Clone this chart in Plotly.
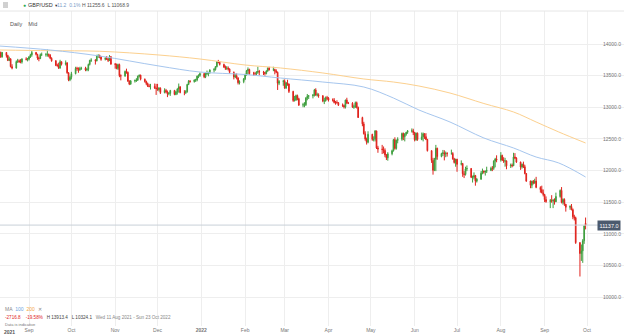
import pandas as pd
import plotly.graph_objects as go

# ---------------------------------------------------------------------------
# GBP/USD daily candles (price x 10000), 11 Aug 2021 - 30 Sep 2022, weekdays
# ---------------------------------------------------------------------------
closes = [
    # Aug 2021
    13866, 13797, 13866, 13817, 13741, 13765, 13642, 13620, 13722, 13734, 13723, 13714, 13763, 13758, 13760,
    # Sep 2021
    13796, 13828, 13866, 13836, 13779, 13771, 13832, 13832, 13832, 13833, 13822, 13775, 13734, 13662, 13661,
    13619, 13720, 13679, 13702, 13545, 13433, 13473,
    # Oct 2021
    13531, 13615, 13614, 13593, 13610, 13617, 13591, 13598, 13676, 13741, 13746, 13733, 13813, 13822, 13799,
    13757, 13776, 13761, 13742, 13798, 13683,
    # Nov 2021
    13678, 13614, 13674, 13500, 13495, 13566, 13551, 13415, 13366, 13415, 13422, 13430, 13491, 13508, 13443,
    13409, 13377, 13337, 13330, 13331, 13304, 13297,
    # Dec 2021
    13280, 13300, 13232, 13266, 13244, 13215, 13219, 13265, 13202, 13241, 13290, 13324, 13233, 13232, 13246,
    13361, 13410, 13405, 13431, 13431, 13492, 13503, 13532,
    # Jan 2022
    13481, 13530, 13536, 13546, 13589, 13595, 13642, 13715, 13712, 13676, 13636, 13616, 13618, 13605, 13552,
    13479, 13498, 13466, 13388, 13405, 13449,
    # Feb 2022
    13514, 13578, 13597, 13530, 13530, 13529, 13553, 13565, 13557, 13551, 13534, 13574, 13618, 13592, 13596,
    13575, 13553, 13379, 13408, 13413,
    # Mar 2022
    13305, 13386, 13367, 13250, 13107, 13112, 13184, 13135, 13035, 13039, 13039, 13145, 13174, 13181, 13191,
    13273, 13193, 13197, 13182, 13098, 13100, 13152, 13143,
    # Apr 2022
    13115, 13115, 13075, 13074, 13073, 13033, 13028, 13003, 13114, 13068, 13064, 13002, 13004, 13072, 12998,
    12838, 12737, 12580, 12497, 12446, 12572,
    # May 2022
    12492, 12493, 12626, 12357, 12339, 12333, 12318, 12247, 12200, 12264, 12312, 12488, 12349, 12475, 12493,
    12585, 12534, 12575, 12604, 12627, 12627, 12601,
    # Jun 2022
    12486, 12590, 12489, 12532, 12581, 12535, 12491, 12313, 12160, 12003, 12176, 12352, 12220, 12269, 12279,
    12262, 12270, 12267, 12269, 12184, 12126, 12178,
    # Jul 2022
    12097, 12110, 11949, 11937, 12026, 12031, 11892, 11893, 11920, 11831, 11864, 11957, 11992, 11976, 11987,
    12002, 12035, 12034, 12151, 12181, 12165,
    # Aug 2022
    12238, 12166, 12148, 12152, 12074, 12085, 12075, 12214, 12198, 12134, 12055, 12099, 12060, 11952, 11834,
    11766, 11829, 11801, 11833, 11733, 11698, 11647, 11620,
    # Sep 2022
    11540, 11510, 11523, 11517, 11528, 11506, 11589, 11685, 11495, 11542, 11467, 11417, 11431, 11381, 11269,
    11253, 10858, 10687, 10730, 10890, 11126, 11137,
]

opens = [
    13880, 13866, 13797, 13866, 13817, 13741, 13765, 13642, 13620, 13722, 13734, 13723, 13714, 13763, 13758,
    13760, 13796, 13828, 13866, 13836, 13779, 13771, 13832, 13832, 13832, 13833, 13822, 13775, 13734, 13662,
    13661, 13619, 13720, 13679, 13702, 13545, 13433,
    13473, 13531, 13615, 13614, 13593, 13610, 13617, 13591, 13598, 13676, 13741, 13746, 13733, 13813, 13822,
    13799, 13757, 13776, 13761, 13742, 13798,
    13683, 13678, 13614, 13674, 13500, 13495, 13566, 13551, 13415, 13366, 13415, 13422, 13430, 13491, 13508,
    13443, 13409, 13377, 13337, 13330, 13331, 13304,
    13297, 13280, 13300, 13232, 13266, 13244, 13215, 13219, 13265, 13202, 13241, 13290, 13324, 13233, 13232,
    13246, 13361, 13410, 13405, 13431, 13431, 13492, 13503,
    13532, 13481, 13530, 13536, 13546, 13589, 13595, 13642, 13715, 13712, 13676, 13636, 13616, 13618, 13605,
    13552, 13479, 13498, 13466, 13388, 13405,
    13449, 13514, 13578, 13597, 13530, 13530, 13529, 13553, 13565, 13557, 13551, 13534, 13574, 13618, 13592,
    13596, 13575, 13553, 13379, 13408,
    13413, 13305, 13386, 13367, 13250, 13107, 13112, 13184, 13135, 13035, 13039, 13039, 13145, 13174, 13181,
    13191, 13273, 13193, 13197, 13182, 13098, 13100, 13152,
    13143, 13115, 13115, 13075, 13074, 13073, 13033, 13028, 13003, 13114, 13068, 13064, 13002, 13004, 13072,
    12998, 12838, 12737, 12580, 12497, 12446,
    12572, 12492, 12493, 12626, 12357, 12339, 12333, 12318, 12247, 12200, 12264, 12312, 12488, 12349, 12475,
    12493, 12585, 12534, 12575, 12604, 12627, 12627,
    12601, 12486, 12590, 12489, 12532, 12581, 12535, 12491, 12313, 12160, 12003, 12176, 12352, 12220, 12269,
    12279, 12262, 12270, 12267, 12269, 12184, 12126,
    12178, 12097, 12110, 11949, 11937, 12026, 12031, 11892, 11893, 11920, 11831, 11864, 11957, 11992, 11976,
    11987, 12002, 12035, 12034, 12151, 12181,
    12165, 12238, 12166, 12148, 12152, 12074, 12085, 12075, 12214, 12198, 12134, 12055, 12099, 12060, 11952,
    11834, 11766, 11829, 11801, 11833, 11733, 11698, 11647,
    11620, 11540, 11510, 11523, 11517, 11528, 11506, 11589, 11685, 11495, 11542, 11467, 11417, 11431, 11381,
    11269, 11253, 10858, 10687, 10730, 10890, 11165,
]

highs = [
    13895, 13880, 13875, 13870, 13830, 13800, 13775, 13680, 13740, 13765, 13755, 13760, 13775, 13790, 13780,
    13810, 13845, 13890, 13875, 13845, 13800, 13850, 13865, 13860, 13913, 13850, 13840, 13790, 13745, 13690,
    13705, 13750, 13725, 13740, 13710, 13555, 13500,
    13560, 13640, 13640, 13630, 13640, 13640, 13640, 13625, 13690, 13750, 13775, 13760, 13830, 13834, 13830,
    13810, 13790, 13810, 13780, 13825, 13810,
    13700, 13690, 13690, 13690, 13520, 13580, 13610, 13565, 13425, 13430, 13440, 13460, 13500, 13515, 13515,
    13455, 13420, 13390, 13370, 13370, 13375, 13370,
    13370, 13320, 13315, 13300, 13290, 13265, 13240, 13275, 13275, 13260, 13300, 13375, 13330, 13270, 13270,
    13370, 13430, 13430, 13440, 13450, 13500, 13520, 13550,
    13540, 13550, 13580, 13560, 13600, 13620, 13650, 13730, 13749, 13730, 13690, 13660, 13650, 13645, 13615,
    13565, 13530, 13535, 13470, 13425, 13460,
    13530, 13590, 13630, 13610, 13560, 13560, 13570, 13640, 13590, 13575, 13560, 13585, 13630, 13640, 13640,
    13610, 13600, 13565, 13430, 13435,
    13440, 13400, 13435, 13375, 13260, 13180, 13200, 13200, 13150, 13070, 13080, 13160, 13210, 13190, 13210,
    13290, 13300, 13230, 13220, 13190, 13150, 13170, 13180,
    13160, 13140, 13145, 13100, 13110, 13080, 13060, 13045, 13120, 13150, 13085, 13080, 13040, 13090, 13090,
    13010, 12850, 12770, 12620, 12520, 12620,
    12580, 12540, 12640, 12630, 12390, 12405, 12380, 12350, 12260, 12290, 12330, 12500, 12525, 12490, 12525,
    12600, 12600, 12590, 12610, 12640, 12665, 12660,
    12610, 12600, 12600, 12600, 12600, 12590, 12590, 12500, 12320, 12200, 12200, 12405, 12360, 12280, 12325,
    12320, 12300, 12290, 12330, 12290, 12200, 12185,
    12185, 12160, 12120, 11990, 12060, 12080, 12040, 11920, 11970, 11930, 11880, 11990, 12030, 12000, 12000,
    12060, 12060, 12070, 12160, 12200, 12240,
    12290, 12250, 12210, 12200, 12160, 12110, 12110, 12280, 12275, 12210, 12140, 12110, 12140, 12090, 11960,
    11840, 11840, 11850, 11870, 11900, 11750, 11760, 11700,
    11630, 11590, 11550, 11610, 11550, 11560, 11650, 11700, 11738, 11560, 11560, 11470, 11450, 11470, 11400,
    11300, 11270, 10870, 10830, 10915, 11130, 11256,
]

lows = [
    13840, 13780, 13785, 13785, 13730, 13730, 13630, 13600, 13610, 13700, 13700, 13695, 13690, 13740, 13725,
    13740, 13780, 13800, 13820, 13750, 13727, 13760, 13810, 13800, 13800, 13790, 13760, 13720, 13650, 13640,
    13605, 13610, 13660, 13660, 13530, 13412, 13412,
    13440, 13520, 13575, 13545, 13575, 13590, 13570, 13570, 13570, 13660, 13715, 13675, 13725, 13780, 13775,
    13735, 13740, 13750, 13715, 13730, 13670,
    13610, 13600, 13590, 13475, 13425, 13480, 13530, 13400, 13350, 13355, 13390, 13400, 13415, 13470, 13425,
    13390, 13350, 13320, 13315, 13280, 13290, 13195,
    13260, 13250, 13210, 13220, 13220, 13160, 13190, 13180, 13190, 13190, 13200, 13230, 13220, 13190, 13210,
    13230, 13350, 13390, 13390, 13400, 13410, 13460, 13480,
    13460, 13460, 13510, 13490, 13530, 13550, 13580, 13630, 13695, 13660, 13620, 13590, 13590, 13580, 13530,
    13440, 13460, 13440, 13360, 13360, 13380,
    13430, 13500, 13520, 13515, 13500, 13500, 13510, 13530, 13505, 13510, 13500, 13520, 13560, 13580, 13570,
    13520, 13540, 13273, 13350, 13340,
    13290, 13290, 13340, 13225, 13085, 13090, 13105, 13110, 13020, 13000, 13000, 13020, 13110, 13130, 13140,
    13170, 13180, 13170, 13150, 13080, 13050, 13090, 13110,
    13090, 13090, 13060, 13040, 13055, 13020, 13005, 12980, 12980, 13050, 13050, 12990, 12975, 12990, 12980,
    12830, 12700, 12570, 12470, 12410, 12430,
    12470, 12460, 12460, 12340, 12280, 12260, 12270, 12210, 12165, 12155, 12240, 12300, 12330, 12330, 12430,
    12470, 12480, 12460, 12550, 12580, 12600, 12560,
    12460, 12470, 12470, 12480, 12460, 12500, 12480, 12300, 12120, 11934, 11990, 11990, 12170, 12210, 12230,
    12160, 12210, 12220, 12250, 12170, 12110, 12060,
    11980, 12080, 11900, 11880, 11920, 11990, 11880, 11810, 11860, 11760, 11810, 11850, 11940, 11950, 11920,
    11960, 11990, 11990, 12010, 12050, 12130,
    12140, 12150, 12120, 12060, 12020, 12040, 12050, 12070, 12180, 12120, 12010, 12030, 12040, 11940, 11820,
    11720, 11720, 11780, 11790, 11720, 11650, 11640, 11590,
    11500, 11490, 11405, 11490, 11405, 11460, 11500, 11570, 11480, 11460, 11440, 11350, 11380, 11370, 11230,
    11210, 10840, 10324, 10570, 10540, 10840, 11069,
]

# Moving averages (100 and 200 day) sampled along the period
ma_dates = ["2021-08-11", "2021-09-16", "2021-10-21", "2021-12-02", "2021-12-31", "2022-02-01",
            "2022-02-26", "2022-03-28", "2022-04-26", "2022-05-17", "2022-06-04", "2022-06-26",
            "2022-07-20", "2022-08-10", "2022-08-26", "2022-09-11", "2022-09-30"]
ma100 = [13968, 13905, 13810, 13652, 13557, 13518, 13462, 13399, 13320, 13146, 12957, 12767,
         12514, 12356, 12213, 12119, 11897]
ma200 = [13905, 13894, 13885, 13826, 13763, 13668, 13621, 13542, 13447, 13399, 13336, 13225,
         13059, 12925, 12767, 12609, 12435]

# Axis ticks
month_ticks = ["2021-09-01", "2021-10-01", "2021-11-01", "2021-12-01", "2022-01-01", "2022-02-01",
               "2022-03-01", "2022-04-01", "2022-05-01", "2022-06-01", "2022-07-01", "2022-08-01",
               "2022-09-01", "2022-10-01"]
month_labels = ["Sep", "Oct", "Nov", "Dec", "<b>2022</b>", "Feb", "Mar", "Apr", "May", "Jun",
                "Jul", "Aug", "Sep", "Oct"]
price_ticks = [10000, 10500, 11000, 11500, 12000, 12500, 13000, 13500, 14000]
last_price = 11137.0

dates = pd.bdate_range("2021-08-11", "2022-09-30")
assert len(dates) == len(closes) == len(opens) == len(highs) == len(lows)

W, H = 624, 336
FONT = "Liberation Sans, Arial, sans-serif"
GREEN = "#3f9f3f"
RED = "#e0231d"
GRID = "#eeeeee"


def py(p):
    """pixel row -> paper y"""
    return 1 - p / H


def px(p):
    """pixel column -> paper x"""
    return p / W


fig = go.Figure()

fig.add_trace(go.Scatter(
    x=ma_dates, y=ma200, mode="lines", line=dict(color="#fcd08e", width=1, shape="spline"),
    hoverinfo="skip", showlegend=False))
fig.add_trace(go.Scatter(
    x=ma_dates, y=ma100, mode="lines", line=dict(color="#a6c6ee", width=1, shape="spline"),
    hoverinfo="skip", showlegend=False))

fig.add_trace(go.Candlestick(
    x=dates, open=opens, high=highs, low=lows, close=closes,
    increasing=dict(line=dict(color=GREEN, width=1), fillcolor=GREEN),
    decreasing=dict(line=dict(color=RED, width=1), fillcolor=RED),
    whiskerwidth=0, showlegend=False, hoverinfo="skip"))

# last price line + tag
fig.add_shape(type="line", xref="paper", yref="y", x0=0, x1=px(598), y0=last_price, y1=last_price,
              line=dict(color="#c9d0d8", width=1))
fig.add_annotation(xref="paper", yref="y", x=px(621), y=last_price, text=f"{last_price:.1f}",
                   showarrow=False, xanchor="right", yanchor="middle",
                   font=dict(family=FONT, size=5.5, color="white"),
                   bgcolor="#4b5a6e", borderpad=1.5)

# header separator
fig.add_shape(type="line", xref="paper", yref="paper", x0=0, x1=1, y0=py(11), y1=py(11),
              line=dict(color="#e6e6e6", width=1))

# menu icon (three short bars)
for yy in (3, 5, 7):
    fig.add_shape(type="line", xref="paper", yref="paper", x0=px(3), x1=px(8), y0=py(yy), y1=py(yy),
                  line=dict(color="#8a8a8a", width=0.8))

annotations = [
    dict(x=px(20.5), y=py(5), text="●", font=dict(size=5, color="#2fa84f")),
    dict(x=px(26), y=py(5), text="GBP/USD <span style='font-size:4px'>▼</span>",
         font=dict(size=5.5, color="#333333")),
    dict(x=px(55), y=py(5),
         text="<span style='color:#7a9cc8'>11.2&nbsp;&nbsp;0.1%</span>&nbsp;"
              "<span style='color:#555555'>H 11255.6&nbsp;&nbsp;L 11068.9</span>",
         font=dict(size=5)),
    dict(x=px(8), y=py(24), text="Daily&nbsp;&nbsp;&nbsp;&nbsp;Mid", font=dict(size=5.5, color="#555555")),
    dict(x=px(3), y=py(309),
         text="MA&nbsp;&nbsp;<span style='color:#6b9fe0'>100</span>&nbsp;&nbsp;"
              "<span style='color:#f3a640'>200</span>&nbsp;&nbsp;✕",
         font=dict(size=5, color="#888888")),
    dict(x=px(3), y=py(317),
         text="<span style='color:#e0231d'>-2716.8&nbsp;&nbsp;&nbsp;&nbsp;-19.58%</span>&nbsp;&nbsp;&nbsp;"
              "<span style='color:#444444'>H 13913.4&nbsp;&nbsp;&nbsp;L 10324.1</span>&nbsp;&nbsp;&nbsp;"
              "<span style='color:#888888'>Wed 11 Aug 2021 - Sun 23 Oct 2022</span>",
         font=dict(size=4.6)),
    dict(x=px(3), y=py(324), text="Data is indicative", font=dict(size=4, color="#777777")),
    dict(x=px(2), y=py(331.5), text="<b>2021</b>", font=dict(size=5, color="#555555")),
]
for a in annotations:
    a.update(xref="paper", yref="paper", showarrow=False, xanchor="left", yanchor="middle")
    a["font"].setdefault("family", FONT)
    fig.add_annotation(**a)

# x range: 1 Sep 2021 sits at px 29, 1 Oct 2022 at px 587
day_px = (587 - 29) / (pd.Timestamp("2022-10-01") - pd.Timestamp("2021-09-01")).days
x0 = pd.Timestamp("2021-09-01") - pd.Timedelta(days=29 / day_px)
x1 = pd.Timestamp("2022-10-01") + pd.Timedelta(days=(W - 587) / day_px)

# y range: 14000 at px 44, 10000 at px 297
val_px = (297 - 44) / 4000
plot_top, plot_bot = 11, 326
y_top = 14000 + (44 - plot_top) / val_px
y_bot = 10000 - (plot_bot - 297) / val_px

fig.update_layout(
    width=W, height=H,
    margin=dict(l=0, r=0, t=0, b=0),
    paper_bgcolor="white", plot_bgcolor="white",
    font=dict(family=FONT),
    showlegend=False,
    xaxis=dict(
        type="date", range=[x0, x1], domain=[0, 1],
        rangeslider=dict(visible=False),
        tickvals=month_ticks, ticktext=month_labels,
        tickfont=dict(size=5, color="#777777"),
        showgrid=True, gridcolor=GRID, gridwidth=1,
        zeroline=False, showline=False, ticks="", ticklen=0,
    ),
    yaxis=dict(
        range=[y_bot, y_top], domain=[1 - plot_bot / H, 1 - plot_top / H],
        side="right", ticklabelposition="inside",
        tickvals=price_ticks, tickformat=".1f",
        tickfont=dict(size=5, color="#777777"),
        showgrid=True, gridcolor=GRID, gridwidth=1,
        zeroline=False, showline=False, ticks="",
    ),
)

fig.write_html("out.html", config={"displayModeBar": False})
